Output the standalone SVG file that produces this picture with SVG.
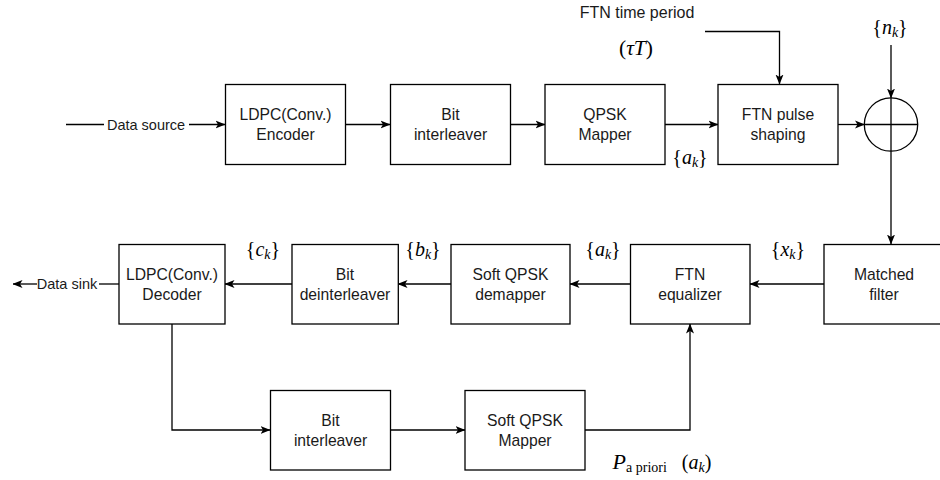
<svg xmlns="http://www.w3.org/2000/svg" width="940" height="480" viewBox="0 0 940 480">
<defs>
<marker id="ah" viewBox="0 0 10 10" refX="9.5" refY="5" markerWidth="10" markerHeight="10" markerUnits="userSpaceOnUse" orient="auto">
<path d="M0,1 L10,5 L0,9 L2.5,5 z" fill="#000"/>
</marker>
<style>
.box{fill:#fff;stroke:#000;stroke-width:1.3}
.ln{fill:none;stroke:#000;stroke-width:1.3}
.arr{fill:none;stroke:#000;stroke-width:1.3;marker-end:url(#ah)}
.t{font-family:"Liberation Sans",Arial,sans-serif;font-size:15.7px;fill:#1a1a1a;text-anchor:middle}
.s{font-family:"Liberation Sans",Arial,sans-serif;font-size:14.5px;fill:#1a1a1a;text-anchor:middle}
.m{font-family:"Liberation Serif","Times New Roman",serif;font-size:20px;fill:#000;text-anchor:middle}
.i{font-style:italic}
.sub{font-size:14px}
</style>
</defs>
<rect width="940" height="480" fill="#fff"/>

<g id="connectors">
<line class="ln" x1="66" y1="124.5" x2="104" y2="124.5"/>
<line class="arr" x1="189" y1="124.5" x2="225" y2="124.5"/>
<line class="arr" x1="345" y1="124.5" x2="390" y2="124.5"/>
<line class="arr" x1="510" y1="124.5" x2="545" y2="124.5"/>
<line class="arr" x1="665" y1="124.5" x2="718" y2="124.5"/>
<line class="arr" x1="838" y1="124.5" x2="864.5" y2="124.5"/>
<polyline class="arr" points="705,31.5 779.5,31.5 779.5,84"/>
<line class="arr" x1="891" y1="45" x2="891" y2="98"/>
<line class="arr" x1="891" y1="151" x2="891" y2="244"/>
<line class="arr" x1="824" y1="284" x2="750" y2="284"/>
<line class="arr" x1="630" y1="284" x2="570" y2="284"/>
<line class="arr" x1="451" y1="284" x2="398" y2="284"/>
<line class="arr" x1="292" y1="284" x2="225" y2="284"/>
<line class="ln" x1="119" y1="284" x2="99" y2="284"/>
<line class="arr" x1="37" y1="284" x2="13" y2="284"/>
<polyline class="arr" points="172,324 172,430 270,430"/>
<line class="arr" x1="390" y1="430" x2="465" y2="430"/>
<polyline class="arr" points="585,430 690,430 690,324"/>
</g>

<g id="lbl-source"><text class="s" x="146" y="129.5">Data source</text></g>
<g id="lbl-sink"><text class="s" x="67" y="289">Data sink</text></g>

<g id="ldpc-encoder"><rect class="box" x="225.5" y="84.5" width="120" height="80"/>
<text class="t" x="285.5" y="120">LDPC(Conv.)</text><text class="t" x="285.5" y="139.5">Encoder</text></g>
<g id="bit-interleaver-tx"><rect class="box" x="390.5" y="84.5" width="120" height="80"/>
<text class="t" x="450.5" y="120">Bit</text><text class="t" x="450.5" y="139.5">interleaver</text></g>
<g id="qpsk-mapper"><rect class="box" x="545" y="84.5" width="120" height="80"/>
<text class="t" x="605" y="120">QPSK</text><text class="t" x="605" y="139.5">Mapper</text></g>
<g id="ftn-pulse"><rect class="box" x="718" y="84.5" width="120" height="80"/>
<text class="t" x="778" y="120">FTN pulse</text><text class="t" x="778" y="139.5">shaping</text></g>
<g id="adder"><circle class="box" cx="891" cy="124.5" r="26.7"/>
<line class="ln" x1="864.3" y1="124.5" x2="917.7" y2="124.5"/>
<line class="ln" x1="891" y1="97.8" x2="891" y2="151.2"/></g>

<g id="matched-filter"><rect class="box" x="824" y="244.5" width="120" height="79.5"/>
<text class="t" x="884" y="280">Matched</text><text class="t" x="884" y="299.5">filter</text></g>
<g id="ftn-equalizer"><rect class="box" x="630.5" y="244.5" width="119.5" height="79.5"/>
<text class="t" x="690" y="280">FTN</text><text class="t" x="690" y="299.5">equalizer</text></g>
<g id="soft-demapper"><rect class="box" x="451" y="244.5" width="119" height="79.5"/>
<text class="t" x="510.5" y="280">Soft QPSK</text><text class="t" x="510.5" y="299.5">demapper</text></g>
<g id="bit-deinterleaver"><rect class="box" x="292" y="244.5" width="106.3" height="79.5"/>
<text class="t" x="345" y="280">Bit</text><text class="t" x="345" y="299.5">deinterleaver</text></g>
<g id="ldpc-decoder"><rect class="box" x="119" y="244.5" width="106" height="79.5"/>
<text class="t" x="172" y="280">LDPC(Conv.)</text><text class="t" x="172" y="299.5">Decoder</text></g>

<g id="bit-interleaver-fb"><rect class="box" x="270.5" y="390.5" width="120" height="79.5"/>
<text class="t" x="330.5" y="426">Bit</text><text class="t" x="330.5" y="445.5">interleaver</text></g>
<g id="soft-mapper"><rect class="box" x="465" y="390.5" width="120" height="79.5"/>
<text class="t" x="525" y="426">Soft QPSK</text><text class="t" x="525" y="445.5">Mapper</text></g>

<g id="labels">
<text class="s" x="637" y="17.5" style="font-size:16px">FTN time period</text>
<text class="m" x="636" y="55" style="font-size:21.5px">(<tspan class="i">τT</tspan>)</text>
<text class="m" x="890" y="34">{<tspan class="i">n</tspan><tspan class="i sub" dy="3">k</tspan><tspan dy="-3">}</tspan></text>
<text class="m" x="690" y="164">{<tspan class="i">a</tspan><tspan class="i sub" dy="3">k</tspan><tspan dy="-3">}</tspan></text>
<text class="m" x="263" y="256">{<tspan class="i">c</tspan><tspan class="i sub" dy="3">k</tspan><tspan dy="-3">}</tspan></text>
<text class="m" x="423" y="256">{<tspan class="i">b</tspan><tspan class="i sub" dy="3">k</tspan><tspan dy="-3">}</tspan></text>
<text class="m" x="603" y="256">{<tspan class="i">a</tspan><tspan class="i sub" dy="3">k</tspan><tspan dy="-3">}</tspan></text>
<text class="m" x="788" y="256">{<tspan class="i">x</tspan><tspan class="i sub" dy="3">k</tspan><tspan dy="-3">}</tspan></text>
<text class="m" x="662" y="469" xml:space="preserve"><tspan class="i" style="font-size:22px">P</tspan><tspan style="font-size:14px" dy="3">a priori</tspan><tspan dy="-3">   (</tspan><tspan class="i">a</tspan><tspan class="i sub" dy="3">k</tspan><tspan dy="-3">)</tspan></text>
</g>
</svg>
